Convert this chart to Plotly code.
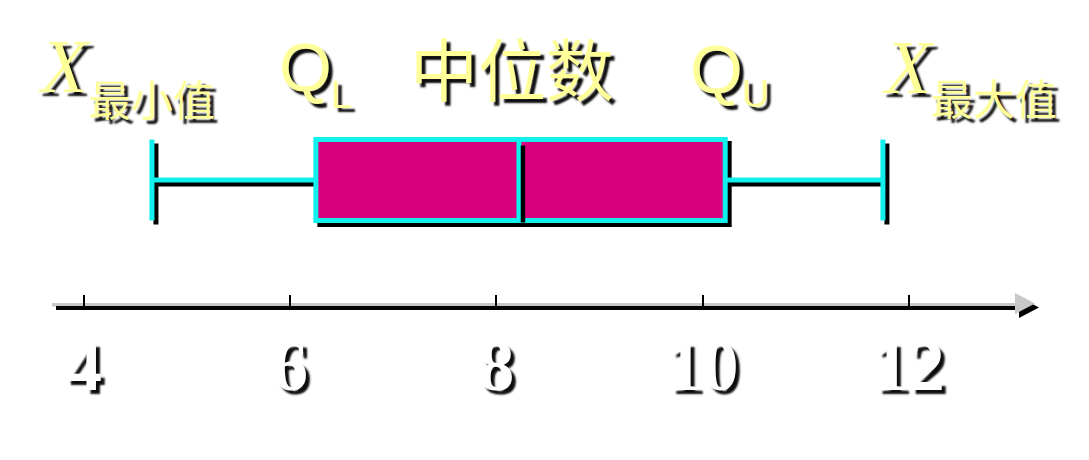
import plotly.graph_objects as go

# ---------------- data ----------------
stat_labels = ["最小值", "L", "中位数", "U", "最大值"]
x_min = [4.66]
q_lower = [6.25]
median = [8.22]
q_upper = [10.22]
x_max = [11.75]
tick_values = [4, 6, 8, 10, 12]
tick_labels = ["4", "6", "8", "10", "12"]

# ---------------- layout constants ----------------
W, H = 1089, 460
PX_PER_UNIT = 103.1
PX_AT_8 = 496.3
DOM_L, DOM_R = 56, 1020
AXIS_Y = 308.3
BOX_Y = 180
BOX_W = 81
SH = 4  # shadow offset px

CYAN = "#10F0EC"
MAGENTA = "#D9007E"
YELLOW = "#FFFF99"
GRAY = "#C8C8C8"
TEXT_SHADOW = "4px 4px 2px rgba(0,0,0,0.95)"


def v_at(px):
    return 8 + (px - PX_AT_8) / PX_PER_UNIT


def px_x(p):
    return p / W


def px_y(p):
    return 1 - p / H


dx = SH / PX_PER_UNIT

fig = go.Figure()

# shadow box
fig.add_trace(go.Box(
    orientation="h", y=[BOX_Y + SH],
    q1=[v + dx for v in q_lower], median=[v + dx for v in median],
    q3=[v + dx for v in q_upper], lowerfence=[v + dx for v in x_min],
    upperfence=[v + dx for v in x_max],
    width=BOX_W, whiskerwidth=1, fillcolor="black",
    line=dict(color="black", width=5), boxpoints=False, hoverinfo="skip",
))
# main box
fig.add_trace(go.Box(
    orientation="h", y=[BOX_Y],
    q1=q_lower, median=median, q3=q_upper,
    lowerfence=x_min, upperfence=x_max,
    width=BOX_W, whiskerwidth=1, fillcolor=MAGENTA,
    line=dict(color=CYAN, width=5), boxpoints=False, hoverinfo="skip",
))
# median shadow visible over the fill
fig.add_trace(go.Scatter(
    x=[median[0] + dx, median[0] + dx],
    y=[BOX_Y + SH - BOX_W / 2 + 2, BOX_Y + SH + BOX_W / 2 - 2],
    mode="lines", line=dict(color="black", width=4.5), hoverinfo="skip",
))

shapes = [
    dict(type="line", xref="paper", yref="paper",
         x0=px_x(52), x1=px_x(1016), y0=px_y(AXIS_Y - 3.5), y1=px_y(AXIS_Y - 3.5),
         line=dict(color=GRAY, width=3.5), layer="below"),
    dict(type="path", xref="paper", yref="paper", layer="above",
         path=f"M {px_x(1015+SH)} {px_y(293+SH)} L {px_x(1015+SH)} {px_y(314+SH)} "
              f"L {px_x(1035+SH)} {px_y(303.5+SH)} Z",
         fillcolor="black", line=dict(width=0)),
    dict(type="path", xref="paper", yref="paper", layer="above",
         path=f"M {px_x(1015)} {px_y(293)} L {px_x(1015)} {px_y(314)} "
              f"L {px_x(1035)} {px_y(303.5)} Z",
         fillcolor=GRAY, line=dict(width=0)),
]

def ann(text, x, y, size, family, color=YELLOW, style="normal", weight="normal"):
    return dict(text=text, x=px_x(x), y=px_y(y), xref="paper", yref="paper",
                xanchor="center", yanchor="middle", showarrow=False,
                font=dict(size=size, family=family, color=color, style=style,
                          weight=weight, shadow=TEXT_SHADOW))

SERIF = "Liberation Serif"
SANS = "Liberation Sans"
CJK = "Noto Sans CJK SC"

annotations = [
    ann("X", 64, 66, 76, SERIF, style="italic"),
    ann(stat_labels[0], 152, 97, 42, CJK),
    ann("Q", 305, 67, 68, SANS),
    ann(stat_labels[1], 341, 95, 38, SANS),
    ann(stat_labels[2], 512, 66, 68, CJK),
    ann("Q", 716, 69, 68, SANS),
    ann(stat_labels[3], 755, 94, 38, SANS),
    ann("X", 908, 67, 76, SERIF, style="italic"),
    ann(stat_labels[4], 994, 96, 42, CJK),
]

fig.update_layout(
    width=W, height=H,
    margin=dict(l=0, r=0, t=0, b=0),
    paper_bgcolor="white", plot_bgcolor="white",
    showlegend=False, boxmode="overlay",
    shapes=shapes, annotations=annotations,
    xaxis=dict(
        domain=[DOM_L / W, DOM_R / W],
        range=[v_at(DOM_L), v_at(DOM_R)],
        anchor="free", position=px_y(AXIS_Y),
        showline=True, linecolor="black", linewidth=3.5,
        ticks="inside", ticklen=12, tickwidth=1.5, tickcolor="black",
        tickvals=tick_values, ticktext=tick_labels,
        tickfont=dict(family=SERIF, size=72, color="white", weight="bold",
                      shadow=TEXT_SHADOW),
        ticklabelstandoff=-6,
        showgrid=False, zeroline=False, fixedrange=True,
    ),
    yaxis=dict(
        domain=[0, 1], range=[H, 0], visible=False,
        showgrid=False, zeroline=False, fixedrange=True,
    ),
)

fig.write_html("out.html", config={"displayModeBar": False})
